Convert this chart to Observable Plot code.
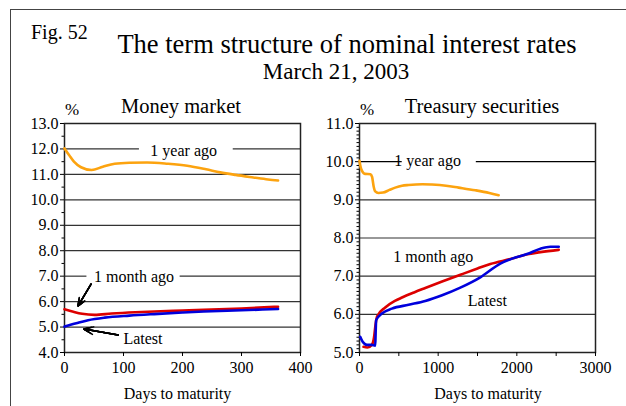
<!DOCTYPE html>
<html>
<head>
<meta charset="utf-8">
<script src="https://cdn.jsdelivr.net/npm/d3@7"></script>
<script src="https://cdn.jsdelivr.net/npm/@observablehq/plot@0.6"></script>
<style>
  body { margin: 0; background: #fff; }
  #fig { position: relative; width: 626px; height: 406px; overflow: hidden; background: #fff;
         font-family: "Liberation Serif", "Times New Roman", serif; color: #000; }
  #fig svg, #fig svg text { font-family: "Liberation Serif", "Times New Roman", serif !important; }
  .t { position: absolute; white-space: nowrap; line-height: 1; }
  .c { transform: translateX(-50%); }
  #border { position: absolute; left: 10px; top: 9px; width: 700px; height: 500px;
            border-top: 1.5px solid #444; border-left: 1.5px solid #444; }
  .panel { position: absolute; }
</style>
</head>
<body>
<div id="fig">
  <div id="border"></div>
  <div class="t" style="left:31px;top:22.3px;font-size:20px">Fig. 52</div>
  <div class="t c" style="left:347px;top:30.8px;font-size:26.5px">The term structure of nominal interest rates</div>
  <div class="t c" style="left:336px;top:59.7px;font-size:23px">March 21, 2003</div>
  <div class="t c" style="left:181px;top:95.5px;font-size:20.5px">Money market</div>
  <div class="t" style="left:65px;top:100.8px;font-size:17px">%</div>
  <div class="t c" style="left:482px;top:95.5px;font-size:20.5px">Treasury securities</div>
  <div class="t" style="left:360px;top:100.8px;font-size:17px">%</div>
  <div class="t c" style="left:177.5px;top:386px;font-size:16px">Days to maturity</div>
  <div class="t c" style="left:488px;top:386px;font-size:16px">Days to maturity</div>
  <div class="panel" id="mm" style="left:20px;top:110px"></div>
  <div class="panel" id="ts" style="left:315px;top:110px"></div>
</div>
<script>
// ---- Money market yield curves: [days to maturity, rate %] ----
const mmYearAgo = [[0,12.02],[8,11.75],[16,11.5],[28,11.28],[46,11.17],[65,11.3],[85,11.42],[110,11.46],
  [140,11.47],[175,11.42],[208,11.34],[240,11.2],[264,11.08],[290,10.98],[320,10.88],[345,10.8],[362,10.76]];
const mmMonthAgo = [[0,5.70],[15,5.6],[30,5.52],[51,5.48],[80,5.53],[120,5.58],[152,5.61],[200,5.65],
  [236,5.68],[300,5.73],[362,5.80]];
const mmLatest = [[0,5.02],[20,5.15],[40,5.27],[68,5.37],[110,5.45],[152,5.51],[200,5.57],[236,5.61],
  [300,5.66],[362,5.71]];

// ---- Treasury securities yield curves ----
const tsYearAgo = [[0,10.02],[15,9.85],[40,9.73],[70,9.68],[140,9.67],[160,9.6],[180,9.35],[200,9.22],
  [240,9.18],[300,9.19],[380,9.26],[454,9.32],[540,9.37],[624,9.39],[800,9.41],[921,9.40],[1100,9.37],
  [1260,9.32],[1473,9.25],[1650,9.18],[1769,9.12]];
const tsMonthAgo = [[51,5.15],[100,5.13],[157,5.2],[185,5.4],[205,5.75],[225,5.95],[327,6.18],[450,6.35],
  [540,6.44],[700,6.58],[836,6.69],[1050,6.86],[1300,7.05],[1500,7.2],[1663,7.32],[1940,7.46],[2087,7.55],
  [2300,7.63],[2533,7.69]];
const tsLatest = [[9,5.41],[40,5.28],[94,5.2],[157,5.2],[200,5.18],[205,5.5],[212,5.85],[285,6.02],
  [412,6.15],[624,6.25],[836,6.35],[1050,6.5],[1282,6.7],[1536,6.97],[1790,7.33],[1940,7.46],[2130,7.58],
  [2300,7.72],[2427,7.77],[2533,7.77]];

// ---- axes ----
const mmXTicks = [0, 100, 200, 300, 400];
const mmYTicks = [4, 5, 6, 7, 8, 9, 10, 11, 12, 13];
const tsXTicks = [0, 1000, 2000, 3000];
const tsXMinor = [500, 1500, 2500];
const tsYTicks = [5, 6, 7, 8, 9, 10, 11];

// ---- gridlines (segments leave room for the series labels) ----
const mmGrid = [[5,0,400],[6,0,400],[7,0,38],[7,196,400],[8,0,400],[9,0,400],[10,0,400],[11,0,400],
  [12,0,127],[12,286,400]];
const tsGrid = [[6,0,3000],[7,0,3000],[8,0,3000],[9,0,3000],[10,0,543],[10,1485,3000]];

// ---- series labels and pointers ----
const mmLabels = [["1 year ago", 202, 12, 2], ["1 month ago", 118, 7, 0.6], ["Latest", 133, 4.54, 0]];
const mmPointers = [[45, 6.69, 23, 5.83], [91, 4.69, 33, 4.92]];
const tsLabels = [["1 year ago", 866, 10, -0.5], ["1 month ago", 938, 7.5, 0], ["Latest", 1625, 6.34, 0]];

const colors = {year: "#fca30f", month: "#dc0000", latest: "#0000dc"};
const serif = "Liberation Serif";

function toRows(pairs, series) { return pairs.map(([d, r]) => ({d, r, series})); }
const fmt = d3.format(".1f");
const plain = d => String(d);

function panel({xDomain, yDomain, xTicks, xMinor, yTicks, yMinor, grid, series, labels, pointers}) {
  const rows = series.flatMap(([pairs, key]) => toRows(pairs, key));
  const gridRows = grid.map(([y, x1, x2]) => ({y, x1, x2}));
  const labelRows = labels.map(([text, x, y, dy]) => ({text, x, y, dy}));
  const marks = [
    Plot.ruleY(gridRows, {y: "y", x1: "x1", x2: "x2", stroke: d => d.y === 10 && xDomain[1] > 1000 ? "#000" : "#333",
      strokeWidth: 1.2}),
    Plot.frame({stroke: "#222", strokeWidth: 1.5}),
    Plot.axisY({ticks: yTicks, tickFormat: fmt, tickSize: 4, tickPadding: 2, label: null, fontSize: 16,
      fontFamily: serif}),
    Plot.axisY({ticks: yMinor, tickFormat: () => "", tickSize: 2.5, label: null}),
    Plot.axisX({ticks: xTicks, tickFormat: plain, tickSize: 4, tickPadding: 5.5, label: null, fontSize: 16,
      fontFamily: serif}),
    Plot.axisX({ticks: xMinor, tickFormat: () => "", tickSize: 4, label: null}),
    Plot.line(rows, {x: "d", y: "r", z: "series", stroke: d => colors[d.series], strokeWidth: 2.6,
      curve: "monotone-x"})
  ];
  for (const l of labelRows) {
    marks.push(Plot.text([l], {x: "x", y: "y", text: "text", fontSize: 16, fontFamily: serif,
      lineAnchor: "middle", textAnchor: "middle", dy: l.dy}));
  }
  if (pointers) {
    const arrows = pointers.map(([x1, y1, x2, y2]) => ({x1, y1, x2, y2}));
    // nested heads of decreasing length give a solid arrowhead
    for (const h of [10, 8, 6, 4, 2]) {
      marks.push(Plot.arrow(arrows, {x1: "x1", y1: "y1", x2: "x2", y2: "y2", stroke: "black",
        strokeWidth: 1.5, headLength: h, headAngle: 45}));
    }
  }
  return Plot.plot({
    width: 290, height: 280,
    marginLeft: 44, marginRight: 10, marginTop: 13, marginBottom: 38,
    x: {domain: xDomain},
    y: {domain: yDomain},
    style: {fontFamily: serif, fontSize: "16px", color: "black",
            background: "transparent", overflow: "visible"},
    marks
  });
}

const mmMinor = d3.range(4.5, 13, 1);
document.getElementById("mm").append(panel({
  xDomain: [0, 400], yDomain: [4, 13], xTicks: mmXTicks, xMinor: [], yTicks: mmYTicks, yMinor: mmMinor,
  grid: mmGrid,
  series: [[mmYearAgo, "year"], [mmMonthAgo, "month"], [mmLatest, "latest"]],
  labels: mmLabels, pointers: mmPointers
}));

const tsMinor = d3.range(51, 110).map(v => v / 10).filter(v => Math.abs(v - Math.round(v)) > 1e-6);
document.getElementById("ts").append(panel({
  xDomain: [0, 3000], yDomain: [5, 11], xTicks: tsXTicks, xMinor: tsXMinor, yTicks: tsYTicks, yMinor: tsMinor,
  grid: tsGrid,
  series: [[tsYearAgo, "year"], [tsMonthAgo, "month"], [tsLatest, "latest"]],
  labels: tsLabels, pointers: null
}));
</script>
</body>
</html>
